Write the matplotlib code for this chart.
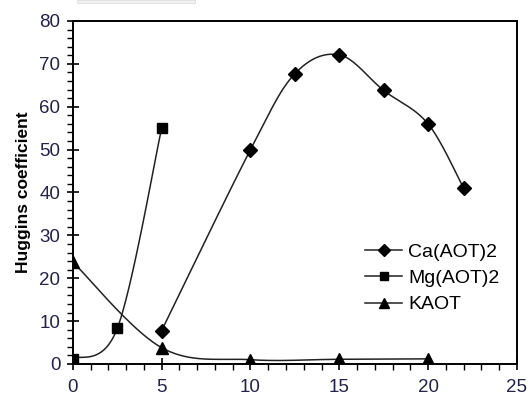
import numpy as np
import matplotlib.pyplot as plt
from matplotlib.patches import Rectangle

plt.rcParams['font.family'] = ['Liberation Sans', 'DejaVu Sans']

ca_x = [5, 10, 12.5, 15, 17.5, 20, 22]
ca_y = [7.8, 50, 67.7, 72.1, 63.8, 56, 41]
mg_x = [0, 2.5, 5]
mg_y = [1.2, 8.3, 55]
k_x = [0, 5, 10, 15, 20]
k_y = [23.8, 3.8, 1.0, 1.1, 1.2]


def smooth(x, y, n=40):
    # Catmull-Rom style curve through the points, like a spreadsheet "smoothed line"
    p = np.column_stack([x, y]).astype(float)
    pts = [p[0]]
    for i in range(len(p) - 1):
        p0 = p[i - 1] if i > 0 else p[i]
        p1, p2 = p[i], p[i + 1]
        p3 = p[i + 2] if i + 2 < len(p) else p[i + 1]
        c1 = p1 + (p2 - p0) / 6.0
        c2 = p2 - (p3 - p1) / 6.0
        t = np.linspace(0, 1, n)[1:, None]
        seg = ((1 - t) ** 3) * p1 + 3 * ((1 - t) ** 2) * t * c1 + 3 * (1 - t) * t ** 2 * c2 + t ** 3 * p2
        pts.extend(seg)
    pts = np.array(pts)
    return pts[:, 0], pts[:, 1]


fig = plt.figure(figsize=(5.28, 4.0), dpi=100)
ax = fig.add_axes([0.138, 0.09, 0.841, 0.8575])

line_col = '#222222'
for xs, ys, mk, ms, lab in [(ca_x, ca_y, 'D', 7, 'Ca(AOT)2'),
                            (mg_x, mg_y, 's', 7, 'Mg(AOT)2'),
                            (k_x, k_y, '^', 8, 'KAOT')]:
    sx, sy = smooth(xs, ys)
    ax.plot(sx, sy, color=line_col, lw=1.1, zorder=2)
    ax.plot(xs, ys, linestyle='none', marker=mk, ms=ms, color='black', zorder=3)
    ax.plot([], [], color=line_col, lw=1.1, marker=mk, ms=ms - 1, mfc='black', mec='black', label=lab)

ax.set_xlim(0, 25)
ax.set_ylim(0, 80)
ax.set_xticks(np.arange(0, 26, 5))
ax.set_yticks(np.arange(0, 81, 10))
ax.set_xticks(np.arange(0, 26, 1), minor=True)
ax.set_yticks(np.arange(0, 81, 2), minor=True)
tick_col = '#22224a'
ax.tick_params(axis='both', which='major', labelsize=13.5, labelcolor=tick_col,
               direction='inout', length=8, width=1.2)
ax.tick_params(axis='y', which='major', pad=5)
ax.tick_params(axis='x', which='major', pad=7)
ax.tick_params(axis='both', which='minor', direction='out', length=4, width=1.0)
for s in ax.spines.values():
    s.set_linewidth(1.4)

ax.set_ylabel('Huggins coefficient', fontsize=12.5, fontweight='bold', labelpad=6)

ax.legend(loc='center left', bbox_to_anchor=(0.637, 0.25), frameon=False, fontsize=14,
          handlelength=1.9, handletextpad=0.3, labelspacing=0.45, borderpad=0)

fig.patches.append(Rectangle((0.145, 0.992), 0.225, 0.008, transform=fig.transFigure,
                             facecolor='#f2f2f2', edgecolor='#dddddd', lw=0.6))

plt.savefig('out.png', dpi=100)
plt.close()
